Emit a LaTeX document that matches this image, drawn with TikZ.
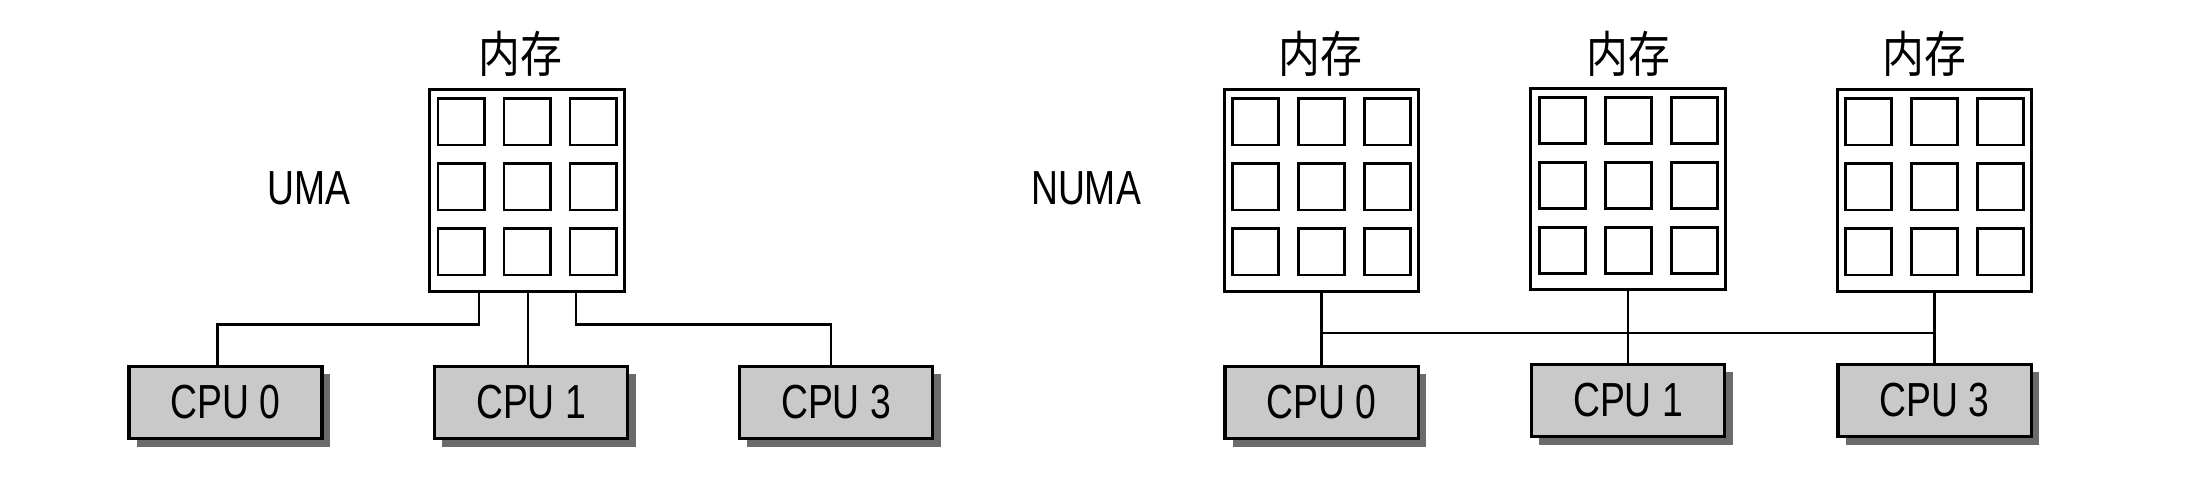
\documentclass[tikz,border=0pt]{standalone}
\usepackage{fontspec}
\newfontfamily\condfont{Liberation Sans}[FakeStretch=0.78]
\newfontfamily\cjkfont{Noto Sans CJK SC}[FakeStretch=0.85]
\usetikzlibrary{calc,shadows}
\definecolor{cpufill}{gray}{0.79}
\definecolor{shadowgray}{gray}{0.42}
\tikzset{
  membox/.style={draw, line width=0.8pt, minimum width=1.945cm, minimum height=2.015cm, inner sep=0pt, fill=white},
  cell/.style={draw, line width=0.85pt, minimum width=0.46cm, minimum height=0.46cm, inner sep=0pt},
  cpubox/.style={draw, line width=0.9pt, fill=cpufill, minimum width=1.93cm, minimum height=0.72cm, inner sep=0pt,
    font=\condfont\fontsize{13.6}{16}\selectfont,
    drop shadow={shadow xshift=0.08cm, shadow yshift=-0.08cm, fill=shadowgray, opacity=1}},
  lbl/.style={inner sep=0pt, font=\condfont\fontsize{13.6}{16}\selectfont},
  cjklbl/.style={inner sep=0pt, font=\cjkfont\fontsize{14}{16}\selectfont},
  wire/.style={line width=0.77pt},
}
\newcommand\memcells[1]{%
  \foreach \dx [count=\i] in {-66,0,66}{%
    \foreach \dy [count=\j] in {-68.5,-3.5,61.5}{%
      \node[cell] (#1-\i-\j) at ($(#1.center)+(\dx,\dy)$) {};}}}
\begin{document}
\begin{tikzpicture}[x=0.01cm, y=-0.01cm]
  \useasboundingbox[fill=white] (0,0) rectangle (2201,492);

  % ---------- UMA ----------
  \node[lbl] (uma) at (309,188) {UMA};
  \node[cjklbl] (umemlbl) at (520,54) {内存};
  \node[membox] (umem) at (527,190.5) {};
  \memcells{umem}
  \node[cpubox] (ucpu0) at (225.5,402.5) {CPU 0\hspace{0.1cm}};
  \node[cpubox] (ucpu1) at (531,402.5) {CPU 1\hspace{0.1cm}};
  \node[cpubox] (ucpu3) at (836,402.5) {CPU 3\hspace{0.1cm}};

  \draw[wire] ([xshift=-0.48cm]umem.south) -- ++(0,32) -| ([xshift=-0.08cm]ucpu0.north);
  \draw[wire] ([xshift=0.01cm]umem.south) -- ([xshift=0.01cm]umem.south |- ucpu1.north);
  \draw[wire] ([xshift=0.49cm]umem.south) -- ++(0,32) -| ([xshift=-0.05cm]ucpu3.north);

  % ---------- NUMA ----------
  \node[lbl] (numa) at (1086,188) {NUMA};
  \node[cjklbl] (nlbl1) at (1320,54) {内存};
  \node[cjklbl] (nlbl2) at (1628,54) {内存};
  \node[cjklbl] (nlbl3) at (1924,54) {内存};
  \node[membox] (nmem1) at (1321.5,190.5) {};
  \node[membox] (nmem2) at (1628,189) {};
  \node[membox] (nmem3) at (1934.5,190.5) {};
  \memcells{nmem1}
  \memcells{nmem2}
  \memcells{nmem3}
  \node[cpubox] (ncpu0) at (1321.5,402.5) {CPU 0};
  \node[cpubox] (ncpu1) at (1628,400.5) {CPU 1};
  \node[cpubox] (ncpu3) at (1934.5,400.5) {CPU 3};

  \draw[wire] (nmem1.south) -- (ncpu0.north);
  \draw[wire] (nmem2.south) -- (ncpu1.north);
  \draw[wire] (nmem3.south) -- (ncpu3.north);
  \coordinate (busL) at (1321.5,333);
  \coordinate (busR) at (1934.5,333);
  \draw[wire] (busL) -- (busR);
\end{tikzpicture}
\end{document}
